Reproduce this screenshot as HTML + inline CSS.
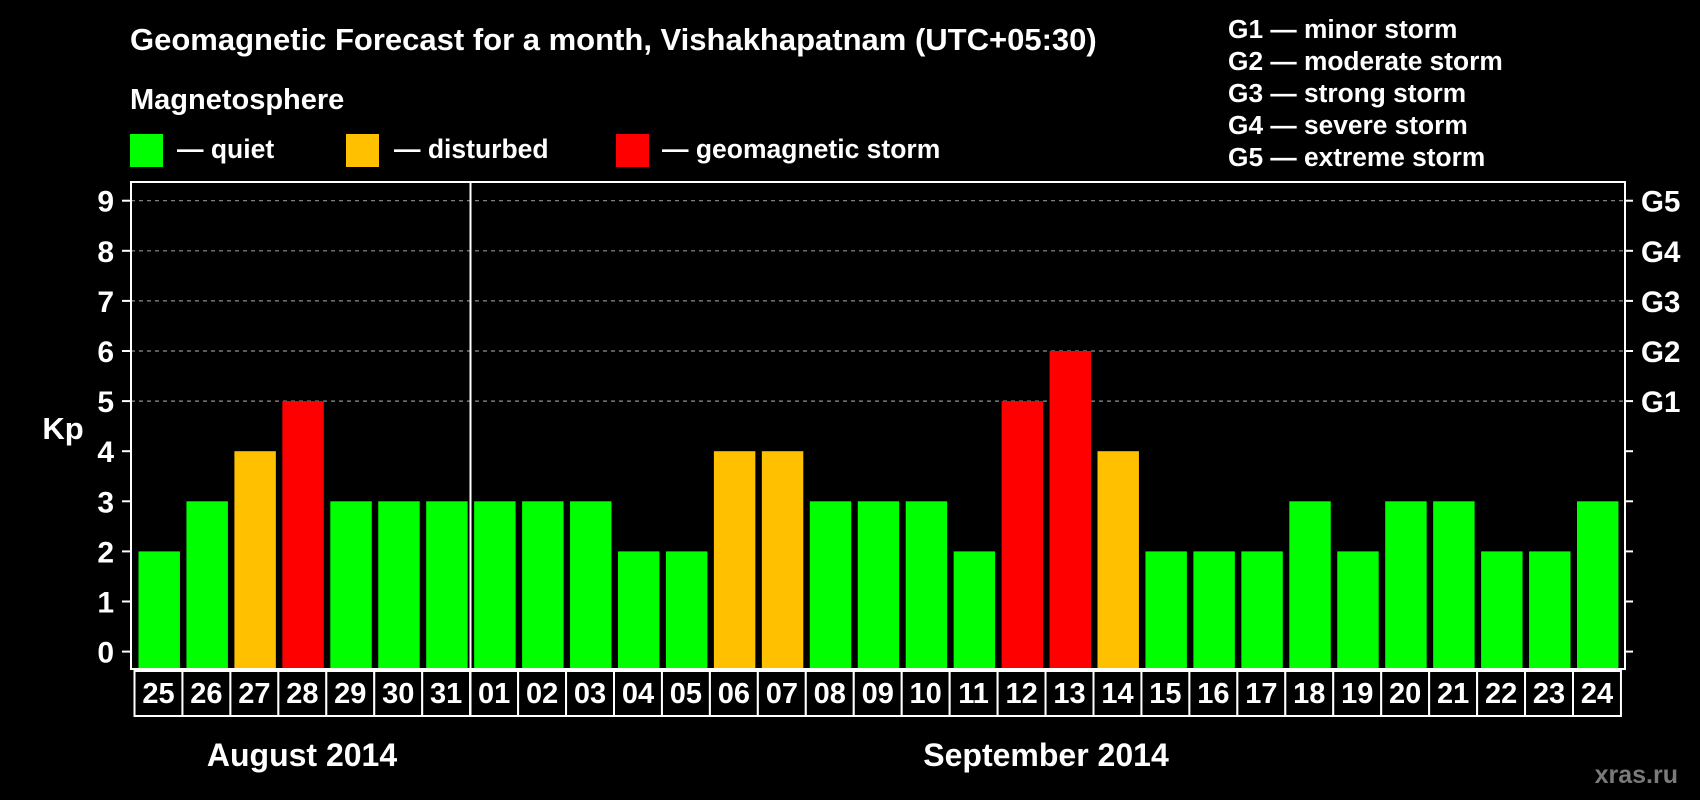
<!DOCTYPE html>
<html><head><meta charset="utf-8"><style>
body{margin:0;background:#000;width:1700px;height:800px;overflow:hidden}
svg{display:block;font-family:"Liberation Sans",Arial,sans-serif;font-weight:bold}
</style></head><body>
<svg id="c" width="1700" height="800">
<text x="130" y="50" fill="#fff" font-size="31">Geomagnetic Forecast for a month, Vishakhapatnam (UTC+05:30)</text>
<text x="130" y="109" fill="#fff" font-size="29">Magnetosphere</text>
<rect x="130" y="134" width="33" height="33" fill="#00ff00"/>
<text x="177" y="158" fill="#fff" font-size="26.5">— quiet</text>
<rect x="346" y="134" width="33" height="33" fill="#ffc000"/>
<text x="394" y="158" fill="#fff" font-size="26.5">— disturbed</text>
<rect x="616" y="134" width="33" height="33" fill="#ff0000"/>
<text x="662" y="158" fill="#fff" font-size="26.5">— geomagnetic storm</text>
<g id="glegend" fill="#fff" font-size="26.3"></g>
<g id="grid"></g>
<g id="bars"></g>
<rect x="131" y="182" width="1494" height="487" fill="none" stroke="#fff" stroke-width="2"/>
<g id="axes"></g>
<line x1="470.5" y1="182" x2="470.5" y2="716" stroke="#fff" stroke-width="2"/>
<text x="63" y="439" fill="#fff" font-size="31" text-anchor="middle">Kp</text>
<text x="302" y="766" fill="#fff" font-size="32" text-anchor="middle">August 2014</text>
<text x="1046" y="766" fill="#fff" font-size="32" text-anchor="middle">September 2014</text>
<text x="1678" y="783" fill="#7a7a7a" font-size="25" text-anchor="end">xras.ru</text>
</svg>
<script>
const days=["25","26","27","28","29","30","31","01","02","03","04","05","06","07","08","09","10","11","12","13","14","15","16","17","18","19","20","21","22","23","24"];
const kp=[2,3,4,5,3,3,3,3,3,3,2,2,4,4,3,3,3,2,5,6,4,2,2,2,3,2,3,3,2,2,3];
const yTicks=[0,1,2,3,4,5,6,7,8,9];
const gLabels=["G1","G2","G3","G4","G5"];
const gDesc=["minor storm","moderate storm","strong storm","severe storm","extreme storm"];
const NS="http://www.w3.org/2000/svg";
const x0=134.5,pitch=47.95,bottom=669;
const y=v=>651.6-v*50.1;
const xs=i=>x0+i*pitch;
function mk(t,a,p){const e=document.createElementNS(NS,t);for(const k in a)e.setAttribute(k,a[k]);p.appendChild(e);return e;}
const gl=document.getElementById('glegend');
gLabels.forEach((g,i)=>{const t=mk('text',{x:1228,y:38+i*32},gl);t.textContent=g+" — "+gDesc[i];

});
const grid=document.getElementById('grid'),ax=document.getElementById('axes'),bars=document.getElementById('bars');
yTicks.forEach(v=>{
 if(v>=5){const l=mk('line',{x1:131,x2:1625,y1:y(v),y2:y(v),stroke:'#909090','stroke-width':1.2,'stroke-dasharray':'4,4'},grid);
 
 }
 mk('line',{x1:122,x2:131,y1:y(v),y2:y(v),stroke:'#fff','stroke-width':2},ax);
 mk('line',{x1:1625,x2:1633,y1:y(v),y2:y(v),stroke:'#fff','stroke-width':2},ax);
 const t=mk('text',{x:114,y:y(v)+11,fill:'#fff','font-size':30,'text-anchor':'end'},ax);t.textContent=v;
 
 
 if(v>=5){const g=mk('text',{x:1641,y:y(v)+11,fill:'#fff','font-size':29.5},ax);g.textContent=gLabels[v-5];
 
 }
});
days.forEach((d,i)=>{
 const v=kp[i];const c=v>=5?'#ff0000':v>=4?'#ffc000':'#00ff00';
 const r=mk('rect',{x:xs(i)+4,y:y(v),width:pitch-6.5,height:bottom-y(v),fill:c},bars);
 
 
 const b=mk('rect',{x:xs(i),y:671,width:pitch,height:45,fill:'#000',stroke:'#fff','stroke-width':2},ax);
 
 
 const t=mk('text',{x:xs(i)+pitch/2,y:703,fill:'#fff','font-size':29,'text-anchor':'middle'},ax);t.textContent=d;
 
 
});
</script>
</body></html>
